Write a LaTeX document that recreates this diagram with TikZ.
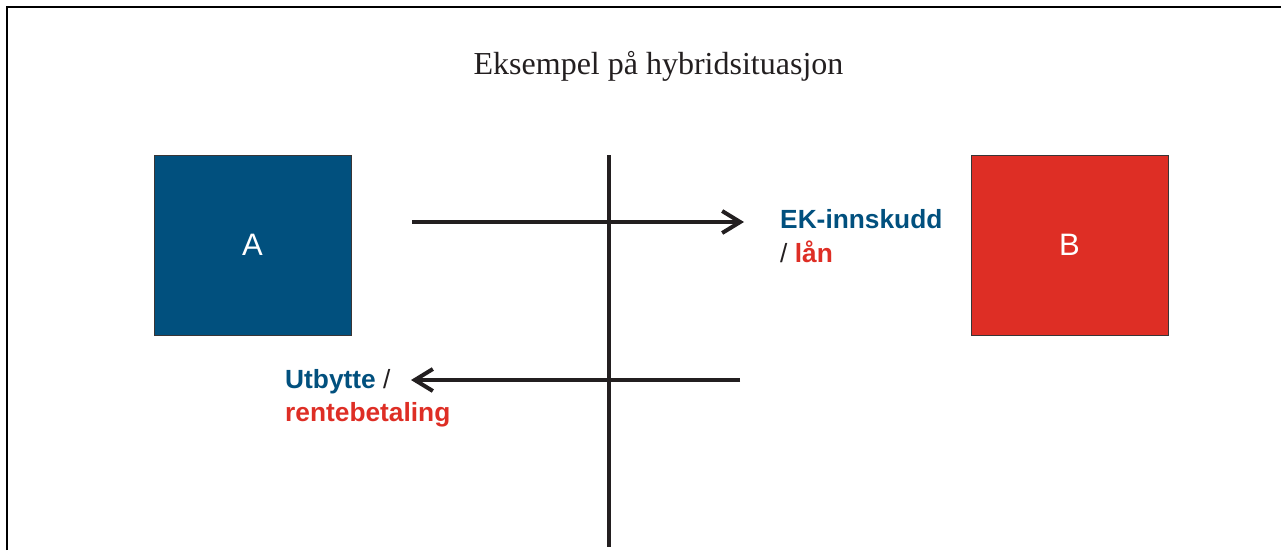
\documentclass[tikz,border=0pt]{standalone}
\usepackage{fontspec}
\setmainfont{Liberation Serif}
\newfontfamily\labelfont{Liberation Sans}
\usetikzlibrary{arrows.meta}
\definecolor{ablue}{HTML}{01507E}
\definecolor{bred}{HTML}{DE2E25}
\definecolor{ink}{HTML}{231F20}
\tikzset{
  party/.style={minimum width=197pt, minimum height=180pt, inner sep=0pt,
    draw=ink!90, line width=1pt, text=white,
    font=\labelfont\fontsize{31}{31}\selectfont},
  flowlabel/.style={anchor=base west, inner sep=0pt,
    font=\labelfont\bfseries\fontsize{26.3}{30}\selectfont},
  flow/.style={draw=ink, line width=4pt,
    -{Straight Barb[length=18pt,width=22pt,line width=4pt]}},
}
\begin{document}
\begin{tikzpicture}[x=1pt,y=-1pt]
  \useasboundingbox (0,0) rectangle (1281,550);
  % outer frame (top and left edges)
  \draw[line width=2pt] (7,550) -- (7,7) -- (1281,7);
  % heading
  \node[anchor=base, inner sep=0pt, font=\fontsize{32}{32}\selectfont, text=ink]
    (title) at (658.5,74) {Eksempel på hybridsituasjon};
  % the two parties
  \node[party, fill=ablue] (A) at (252.5,245) {A};
  \node[party, fill=bred]  (B) at (1069.5,245) {B};
  % border between them
  \coordinate (borderTop) at (608.5,155);
  \coordinate (borderBot) at (608.5,547);
  \draw[draw=ink, line width=4pt] (borderTop) -- (borderBot);
  % capital going from A to B
  \coordinate (outStart) at (412,222);
  \coordinate (outEnd) at (744,222);
  \draw[flow] (outStart) -- (outEnd);
  % return going from B to A
  \coordinate (backStart) at (740,380);
  \coordinate (backEnd) at (411,380);
  \draw[flow] (backStart) -- (backEnd);
  % labels
  \node[flowlabel, text=ablue] (ek) at (780,228) {EK-innskudd};
  \node[flowlabel] (laan) at (780,262) {\textcolor{ink}{\mdseries /} \textcolor{bred}{lån}};
  \node[flowlabel, text=ablue] (utb) at (285,388) {Utbytte \textcolor{ink}{\mdseries /}};
  \node[flowlabel, text=bred] (rente) at (285,421) {rentebetaling};
\end{tikzpicture}
\end{document}
